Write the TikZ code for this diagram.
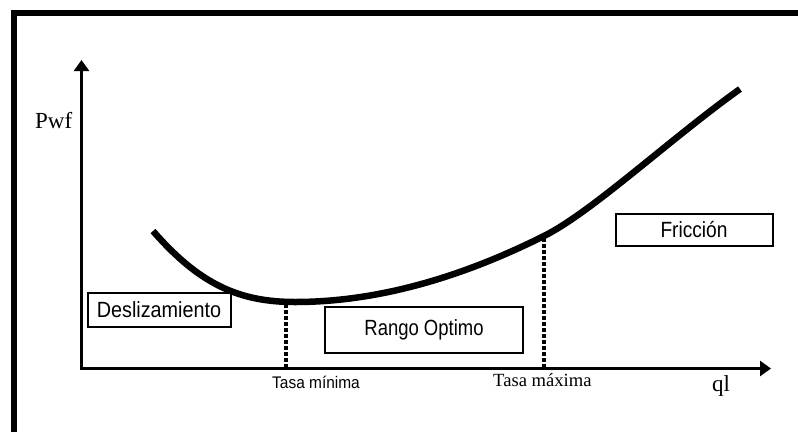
\documentclass[tikz,border=0pt]{standalone}
\usepackage{fontspec}
\setmainfont{Liberation Serif}
\setsansfont{Liberation Sans}
\usetikzlibrary{arrows.meta}
\begin{document}
\begin{tikzpicture}[x=1pt,y=-1pt,
  axis/.style={line width=3.2pt,-{Triangle[width=15pt,length=11pt]}},
  regionbox/.style={draw,line width=2pt,inner sep=0pt,font=\sffamily\fontsize{22}{24}\selectfont},
  guide/.style={line width=3.5pt,dash pattern=on 4pt off 2pt},
  serlabel/.style={inner sep=0pt,anchor=base west},
]
\useasboundingbox (0,0) rectangle (798,432);
% frame
\draw[line width=6pt] (14,432) -- (14,13) -- (798,13);
% axes
\coordinate (O) at (81.5,368.5);
\coordinate (ytip) at (81.5,60);
\coordinate (xtip) at (771,368.5);
\draw[axis] ([yshift=1.6pt]O) -- (ytip);
\draw[axis] ([xshift=-1.6pt]O) -- (xtip);
% curve
\coordinate (c0) at (153,231);
\coordinate (cmin) at (295,302);
\coordinate (cmax) at (544,236);
\coordinate (c1) at (740,89);
\draw[line width=6.5pt,line join=round]
  (c0) .. controls (200,285) and (240,302) .. (cmin)
       .. controls (380,302) and (464,276) .. (cmax)
       .. controls (592,212) and (670,139) .. (c1);
% guide lines
\coordinate (gminT) at (286,304);
\coordinate (gminB) at (286,368);
\coordinate (gmaxT) at (544,238);
\coordinate (gmaxB) at (544,368);
\draw[guide] (gminT) -- (gminB);
\draw[guide] (gmaxT) -- (gmaxB);
% boxes
\node[regionbox,minimum width=143pt,minimum height=34pt] (desl) at (159,310)
  {\scalebox{0.9}[1]{Deslizamiento}};
\node[regionbox,minimum width=198pt,minimum height=46pt] (rango) at (424,330)
  {\scalebox{0.84}[1]{Rango Optimo}};
\node[regionbox,minimum width=157pt,minimum height=32pt] (fric) at (694,230)
  {\scalebox{0.87}[1]{Fricción}};
% labels
\node[serlabel,font=\rmfamily\fontsize{23}{25}\selectfont] (pwf) at (35,128) {Pwf};
\node[serlabel,font=\rmfamily\fontsize{23}{25}\selectfont] (ql) at (712,391) {ql};
\node[serlabel,font=\sffamily\fontsize{16.8}{18}\selectfont] (tmin) at (272,388)
  {\scalebox{0.92}[1]{Tasa mínima}};
\node[serlabel,font=\rmfamily\fontsize{18.6}{20}\selectfont] (tmax) at (493,386) {Tasa máxima};
\end{tikzpicture}
\end{document}
